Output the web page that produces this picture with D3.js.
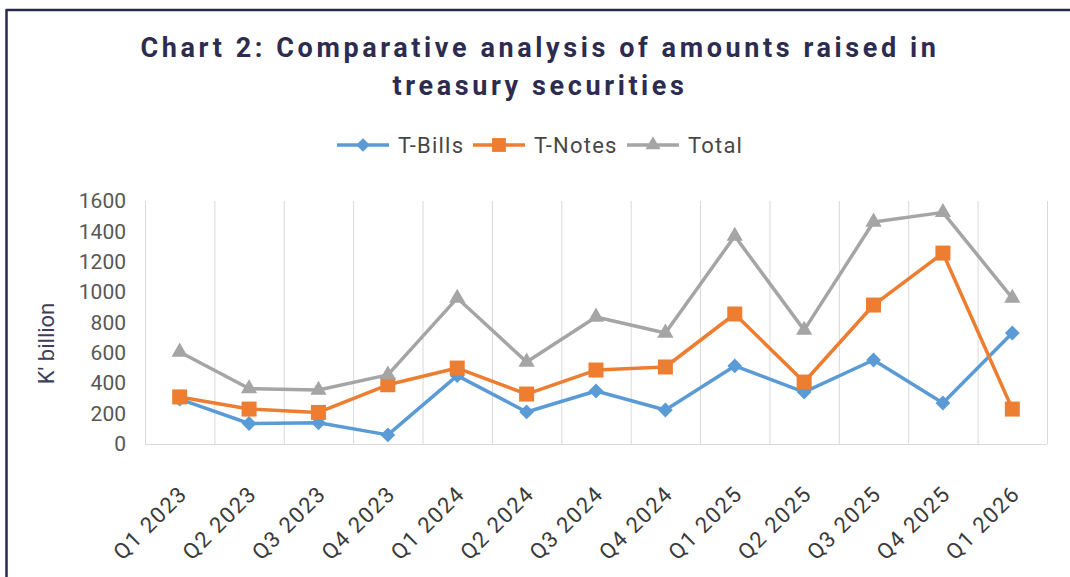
<!DOCTYPE html>
<html>
<head>
<meta charset="utf-8">
<script src="https://cdn.jsdelivr.net/npm/d3@7"></script>
<style>
  html, body { margin: 0; padding: 0; background: #ffffff; }
  svg { display: block; }
</style>
</head>
<body>
<svg id="chart" width="1070" height="577"></svg>
<script>
const categories = ["Q1 2023","Q2 2023","Q3 2023","Q4 2023","Q1 2024","Q2 2024","Q3 2024","Q4 2024","Q1 2025","Q2 2025","Q3 2025","Q4 2025","Q1 2026"];
const tBills  = [295, 135, 140, 60, 450, 211, 349, 224, 514, 342, 553, 270, 731];
const tNotes  = [310, 230, 208, 390, 500, 329, 487, 507, 856, 408, 915, 1257, 230];
const total   = [606, 365, 355, 455, 961, 540, 836, 731, 1369, 750, 1462, 1525, 961];
const yTicks  = [0, 200, 400, 600, 800, 1000, 1200, 1400, 1600];
const seriesNames = ["T-Bills", "T-Notes", "Total"];

const series = [
  {name: seriesNames[0], values: tBills, color: "#5b9bd5", marker: d3.symbolSquare, size: 110, rot: 45, legendX: 337},
  {name: seriesNames[1], values: tNotes, color: "#ed7d31", marker: d3.symbolSquare, size: 225, rot: 0, legendX: 473},
  {name: seriesNames[2], values: total,  color: "#a5a5a5", marker: d3.symbolTriangle, size: 115, rot: 0, legendX: 627}
];

const svg = d3.select("#chart");
const W = 1070, H = 577;
const plot = {left: 145, right: 1047, top: 201, bottom: 444};

svg.append("rect").attr("width", W).attr("height", H).attr("fill", "#ffffff");
// frame lines (top and left)
svg.append("line").attr("x1", 6).attr("x2", W).attr("y1", 10).attr("y2", 10)
  .attr("stroke", "#2b2a4c").attr("stroke-width", 2.5);
svg.append("line").attr("x1", 6.5).attr("x2", 6.5).attr("y1", 9).attr("y2", H)
  .attr("stroke", "#2b2a4c").attr("stroke-width", 2.5);

const x = d3.scaleBand().domain(categories).range([plot.left, plot.right]).padding(0);
const y = d3.scaleLinear().domain([0, 1600]).range([plot.bottom, plot.top]);

// Title
const title = svg.append("text")
  .attr("text-anchor", "middle")
  .attr("font-family", "Roboto, sans-serif")
  .attr("font-weight", "bold")
  .attr("font-size", 27)
  .attr("letter-spacing", "3.6px")
  .attr("fill", "#2d2c50");
title.append("tspan").attr("x", 540).attr("y", 57).text("Chart 2: Comparative analysis of amounts raised in");
title.append("tspan").attr("x", 540).attr("y", 95).text("treasury securities");

// vertical gridlines at category boundaries
const bounds = categories.map(c => x(c)).concat([plot.right]);
svg.append("g").selectAll("line").data(bounds).join("line")
  .attr("x1", d => d + 0.5).attr("x2", d => d + 0.5)
  .attr("y1", plot.top).attr("y2", plot.bottom)
  .attr("stroke", "#d9d9d9").attr("stroke-width", 1);

// baseline
svg.append("line").attr("x1", plot.left).attr("x2", plot.right)
  .attr("y1", y(0) + 0.5).attr("y2", y(0) + 0.5)
  .attr("stroke", "#d9d9d9").attr("stroke-width", 1.2);

// Y axis
const yAxis = d3.axisLeft(y).tickValues(yTicks).tickFormat(d3.format("d")).tickSize(0).tickPadding(0);
const yg = svg.append("g").attr("transform", `translate(${plot.left - 19},0)`).call(yAxis);
yg.select(".domain").remove();
yg.selectAll("text")
  .attr("font-family", "Roboto, sans-serif")
  .attr("font-size", 21)
  .attr("fill", "#575757");

// Y axis title
svg.append("text")
  .attr("transform", `translate(54,${(plot.top + plot.bottom) / 2 + 21}) rotate(-90)`)
  .attr("text-anchor", "middle")
  .attr("font-family", "Roboto, sans-serif")
  .attr("font-size", 22)
  .attr("fill", "#3e3d5c")
  .text("K' billion");

// X axis labels
const xAxis = d3.axisBottom(x).tickSize(0).tickPadding(0);
const xg = svg.append("g").attr("transform", `translate(0,${plot.bottom})`).call(xAxis);
xg.select(".domain").remove();
xg.selectAll("text")
  .attr("font-family", "Roboto, sans-serif")
  .attr("font-size", 22)
  .attr("letter-spacing", "1.6px")
  .attr("fill", "#3a3a3a")
  .attr("text-anchor", "end")
  .attr("dy", 0)
  .attr("transform", "translate(9,51) rotate(-45)");

// lines and markers
const line = d3.line().x((d, i) => x(categories[i]) + x.bandwidth() / 2).y(d => y(d));
series.forEach(s => {
  svg.append("path").datum(s.values)
    .attr("d", line)
    .attr("fill", "none")
    .attr("stroke", s.color)
    .attr("stroke-width", 3.5)
    .attr("stroke-linejoin", "round");
  svg.append("g").selectAll("path").data(s.values).join("path")
    .attr("d", d3.symbol().type(s.marker).size(s.size))
    .attr("transform", (d, i) => `translate(${x(categories[i]) + x.bandwidth() / 2},${y(d)}) rotate(${s.rot})`)
    .attr("fill", s.color);
});

// Legend
const lg = svg.append("g").attr("transform", "translate(0,145)");
series.forEach(s => {
  const g = lg.append("g").attr("transform", `translate(${s.legendX},0)`);
  g.append("line").attr("x1", 0).attr("x2", 52).attr("y1", 0).attr("y2", 0)
    .attr("stroke", s.color).attr("stroke-width", 3.5);
  g.append("path").attr("d", d3.symbol().type(s.marker).size(s.size * 0.85))
    .attr("transform", `translate(26,0) rotate(${s.rot})`).attr("fill", s.color);
  g.append("text").attr("x", 61).attr("y", 8)
    .attr("font-family", "Roboto, sans-serif")
    .attr("font-size", 22)
    .attr("letter-spacing", "1.2px")
    .attr("fill", "#474747")
    .text(s.name);
});
</script>
</body>
</html>
